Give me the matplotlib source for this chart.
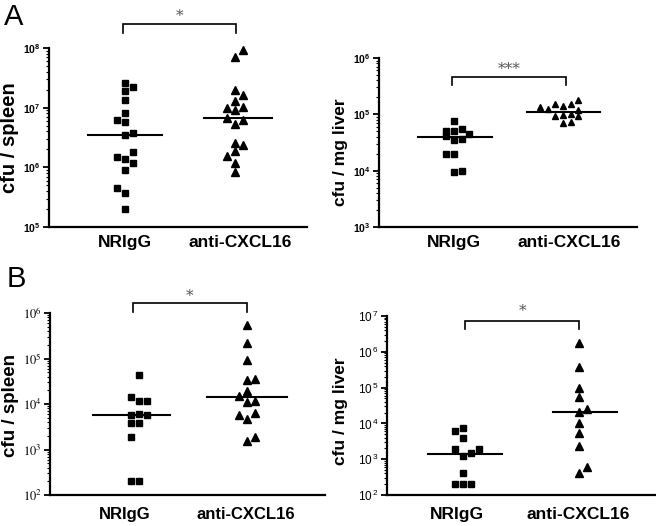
import matplotlib
matplotlib.use('Agg')
import matplotlib.pyplot as plt
from matplotlib.ticker import LogLocator, NullFormatter

plt.rcParams['font.family'] = ['Liberation Sans', 'DejaVu Sans']
plt.rcParams['mathtext.fontset'] = 'custom'
plt.rcParams['mathtext.rm'] = 'Liberation Sans'
plt.rcParams['mathtext.bf'] = 'Liberation Sans:bold'
plt.rcParams['mathtext.it'] = 'Liberation Sans:italic'

# ---------------- data ----------------
groups = ['NRIgG', 'anti-CXCL16']

# Panel A, spleen
A_spleen_nr = [2.6e7, 2.2e7, 1.9e7, 1.35e7, 8.1e6, 6.3e6, 5.7e6, 3.5e6, 3.8e6,
               1.8e6, 1.5e6, 1.4e6, 1.2e6, 9.1e5, 4.5e5, 3.7e5, 2.0e5]
A_spleen_nr_col = [0, 1, 0, 0, 0, -1, 0, 0, 1, 1, -1, 0, 1, 0, -1, 0, 0]
A_spleen_anti = [9.1e7, 7.1e7, 2.0e7, 1.65e7, 1.28e7, 1.0e7, 1.02e7, 9.3e6, 6.7e6,
                 6.3e6, 5.3e6, 2.6e6, 2.4e6, 1.85e6, 1.57e6, 1.18e6, 8.5e5]
A_spleen_anti_col = [1, 0, 0, 1, 0, -1, 1, 0, -1, 1, 0, 0, 1, 0, -1, 0, 0]
A_spleen_medians = [3.5e6, 6.7e6]

# Panel A, liver
A_liver_nr = [7.7e4, 5.1e4, 5.0e4, 5.5e4, 4.5e4, 4.2e4, 3.5e4, 3.6e4, 2.0e4, 2.0e4, 9.3e3, 1.0e4]
A_liver_nr_col = [0, -1, 0, 1, 2, -1, 0, 1, -1, 0, 0, 1]
A_liver_anti = [1.33e5, 1.23e5, 1.5e5, 1.4e5, 1.5e5, 1.8e5, 1.2e5, 9.3e4, 9.8e4, 1.0e5,
                9.3e4, 6.9e4, 7.2e4]
A_liver_anti_col = [-3, -2, -1, 0, 1, 2, 2, -1, 0, 1, 2, 0, 1]
A_liver_medians = [4.0e4, 1.09e5]

# Panel B, spleen
B_spleen_nr = [4.4e4, 1.4e4, 1.15e4, 1.15e4, 5.6e3, 6.0e3, 5.8e3, 3.9e3, 3.9e3, 1.9e3, 2e2, 2e2]
B_spleen_nr_col = [0, -1, 0, 1, -1, 0, 1, -1, 0, -1, -1, 0]
B_spleen_anti = [5.5e5, 2.2e5, 9.4e4, 3.6e4, 3.3e4, 1.9e4, 1.5e4, 1.15e4, 1.08e4, 6.5e3,
                 5.8e3, 4.7e3, 1.9e3, 1.5e3]
B_spleen_anti_col = [0, 0, 0, 1, 0, 0, -1, 1, 0, 1, -1, 0, 1, 0]
B_spleen_medians = [5.8e3, 1.45e4]

# Panel B, liver
B_liver_nr = [7.3e3, 6.2e3, 4.0e3, 1.9e3, 1.9e3, 1.45e3, 1.2e3, 4.1e2, 2e2, 2e2, 2e2]
B_liver_nr_col = [0, -1, 0, -1, 2, 1, 0, 0, -1, 0, 1]
B_liver_anti = [1.8e6, 3.8e5, 1.0e5, 5.6e4, 2.6e4, 2.1e4, 1.0e4, 5.3e3, 2.3e3, 5.9e2, 4.1e2]
B_liver_anti_col = [0, 0, 0, 0, 1, 0, 0, 0, 0, 1, 0]
B_liver_medians = [1.4e3, 2.1e4]

A_spleen_exps = [5, 6, 7, 8]
A_liver_exps = [3, 4, 5, 6]
B_spleen_exps = [2, 3, 4, 5, 6]
B_liver_exps = [2, 3, 4, 5, 6, 7]

ylabels = ['cfu / spleen', 'cfu / mg liver', 'cfu / spleen', 'cfu / mg liver']
sig = ['*', '***', '*', '*']

# ---------------- figure ----------------
W, H = 656, 526
fig = plt.figure(figsize=(W / 100, H / 100), dpi=100)


def add_ax(l, r, t, b):
    return fig.add_axes([l / W, 1 - b / H, (r - l) / W, (b - t) / H])


def panel(ax, nr, nr_col, anti, anti_col, med, exps, ylabel, star, cfg):
    step = cfg['step']
    ax.set_yscale('log')
    ax.set_xlim(*cfg['xlim'])
    ax.set_ylim(10.0 ** exps[0], 10.0 ** exps[-1])
    for s in ['top', 'right']:
        ax.spines[s].set_visible(False)
    for s in ['left', 'bottom']:
        ax.spines[s].set_linewidth(1.6)
    ax.plot([0 + c * step for c in nr_col], nr, 's', color='k', ms=cfg['ms_sq'],
            ls='none', clip_on=False, zorder=3)
    ax.plot([1 + c * step for c in anti_col], anti, '^', color='k', ms=cfg['ms_tr'],
            ls='none', clip_on=False, zorder=3)
    (a0, a1), (b0, b1) = cfg['medx']
    ax.plot([a0, a1], [med[0], med[0]], color='k', lw=1.5, zorder=4)
    ax.plot([b0, b1], [med[1], med[1]], color='k', lw=1.5, zorder=4)
    # bracket
    bx0, bx1 = cfg['bx']
    ye, yt = cfg['by']
    ax.plot([bx0, bx0, bx1, bx1], [ye, yt, yt, ye], color='k', lw=1.2,
            clip_on=False, solid_joinstyle='miter')
    ax.text((bx0 + bx1) / 2, cfg['sy'], star, ha='center', va='center',
            fontsize=cfg['star_fs'], family='DejaVu Serif', color='#555555')
    # y ticks
    ax.set_yticks([10.0 ** e for e in exps])
    if cfg['tick_style'] == 'bold':
        labs = [r'$\mathbf{10^{%d}}$' % e for e in exps]
        ax.set_yticklabels(labs, fontsize=cfg['ytick_fs'])
    elif cfg['tick_style'] == 'serif':
        labs = [r'$10^{%d}$' % e for e in exps]
        ax.set_yticklabels(labs, fontsize=cfg['ytick_fs'], math_fontfamily='stix')
    else:
        labs = [r'$10^{\,%d}$' % e for e in exps]
        ax.set_yticklabels(labs, fontsize=cfg['ytick_fs'])
    ax.yaxis.set_minor_locator(LogLocator(base=10, subs=[2, 3, 4, 5, 6, 7, 8, 9], numticks=20))
    ax.yaxis.set_minor_formatter(NullFormatter())
    ax.tick_params(axis='y', which='major', direction='out', length=4, width=1.3, pad=2)
    ax.tick_params(axis='y', which='minor', direction='out', length=cfg['minor_len'], width=0.8)
    # x ticks
    ax.set_xticks(cfg['xt'])
    ax.set_xticklabels(groups, fontsize=cfg['xt_fs'], fontweight='bold')
    ax.tick_params(axis='x', length=0, pad=cfg['xpad'])
    ax.set_ylabel(ylabel, fontsize=cfg['yl_fs'], fontweight='bold', va='center')
    ax.yaxis.set_label_coords(*cfg['ylc'])


# Panel A left
ax1 = add_ax(49, 307, 48, 227)
panel(ax1, A_spleen_nr, A_spleen_nr_col, A_spleen_anti, A_spleen_anti_col,
      A_spleen_medians, A_spleen_exps, ylabels[0], sig[0],
      dict(step=0.07, xlim=(-0.69, 1.655), ms_sq=4.8, ms_tr=6.0,
           medx=((-0.34, 0.34), (0.72, 1.34)), bx=(-0.02, 1.01), by=(1.8e8, 2.5e8),
           sy=3.5e8, star_fs=11, tick_style='bold', ytick_fs=7.5, minor_len=2.5,
           xt=[0, 1.05], xt_fs=12.5, xpad=5.5, yl_fs=14.5, ylc=(-0.152, 0.5)))

# Panel A right
ax2 = add_ax(379, 637, 58, 227)
panel(ax2, A_liver_nr, A_liver_nr_col, A_liver_anti, A_liver_anti_col,
      A_liver_medians, A_liver_exps, ylabels[1], sig[1],
      dict(step=0.07, xlim=(-0.688, 1.679), ms_sq=4.0, ms_tr=5.0,
           medx=((-0.33, 0.35), (0.67, 1.34)), bx=(-0.02, 1.03), by=(3.3e5, 4.6e5),
           sy=6.5e5, star_fs=11, tick_style='bold', ytick_fs=7.5, minor_len=2.5,
           xt=[0, 1.06], xt_fs=12.5, xpad=5.5, yl_fs=12.5, ylc=(-0.149, 0.44)))

# Panel B left
ax3 = add_ax(50, 325, 313, 495)
panel(ax3, B_spleen_nr, B_spleen_nr_col, B_spleen_anti, B_spleen_anti_col,
      B_spleen_medians, B_spleen_exps, ylabels[2], sig[2],
      dict(step=0.074, xlim=(-0.824, 1.722), ms_sq=4.8, ms_tr=6.0,
           medx=((-0.43, 0.29), (0.63, 1.37)), bx=(-0.06, 1.0), by=(1.05e6, 1.66e6),
           sy=2.4e6, star_fs=11, tick_style='serif', ytick_fs=9, minor_len=2.5,
           xt=[-0.13, 0.99], xt_fs=12, xpad=8.5, yl_fs=13.5, ylc=(-0.144, 0.49)))

# Panel B right
ax4 = add_ax(387, 655, 316, 495)
panel(ax4, B_liver_nr, B_liver_nr_col, B_liver_anti, B_liver_anti_col,
      B_liver_medians, B_liver_exps, ylabels[3], sig[3],
      dict(step=0.07, xlim=(-0.655, 1.655), ms_sq=4.8, ms_tr=6.0,
           medx=((-0.30, 0.34), (0.78, 1.33)), bx=(0.02, 1.0), by=(4.4e6, 7.2e6),
           sy=1.35e7, star_fs=11, tick_style='sans', ytick_fs=8.5, minor_len=2,
           xt=[-0.05, 0.99], xt_fs=12.5, xpad=8.5, yl_fs=12.5, ylc=(-0.173, 0.47)))

fig.text(4 / W, 1 - 25 / H, 'A', fontsize=21, va='baseline', ha='left')
fig.text(7 / W, 1 - 287 / H, 'B', fontsize=21, va='baseline', ha='left')

fig.savefig('out.png', dpi=100)
